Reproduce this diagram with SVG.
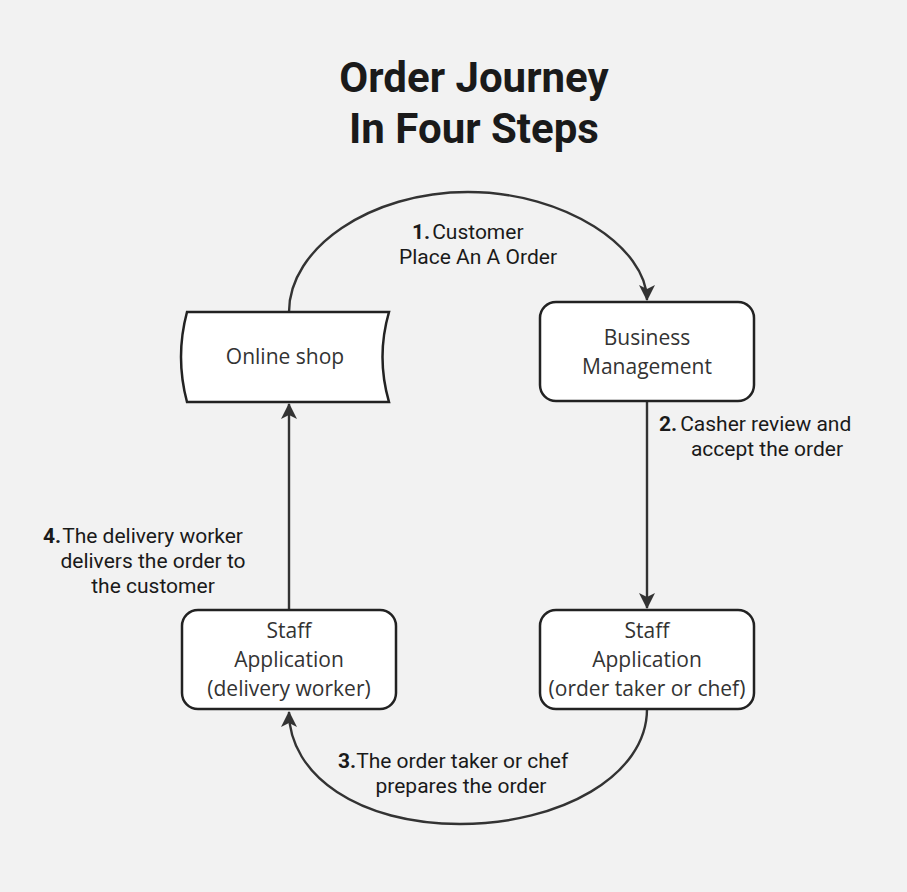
<svg xmlns="http://www.w3.org/2000/svg" width="907" height="892" viewBox="0 0 907 892">
<defs>
<style>
.bg{fill:#f2f2f2}
.node{fill:#ffffff;stroke:#222222;stroke-width:2.5}
.ntext{font-family:"Open Sans","Noto Sans",sans-serif;font-size:21px;fill:#333333;text-anchor:middle}
.conn{fill:none;stroke:#333333;stroke-width:2.4}
.lbl{font-family:Roboto,"Liberation Sans",sans-serif;font-size:21px;fill:#1a1a1a}
.num{font-weight:bold}
.title{font-family:Roboto,"Liberation Sans",sans-serif;font-size:42px;font-weight:bold;fill:#1a1a1a;text-anchor:middle}
</style>
<marker id="arrow" viewBox="0 0 16 16" refX="15" refY="8" markerWidth="16" markerHeight="16" markerUnits="userSpaceOnUse" orient="auto">
<path d="M0,0 L16,8 L0,16 L4,8 Z" fill="#333333"/>
</marker>
</defs>
<rect class="bg" x="0" y="0" width="907" height="892"/>
<g id="title">
<text class="title" x="474" y="92">Order Journey</text>
<text class="title" x="474" y="143">In Four Steps</text>
</g>
<g id="connectors">
<path class="conn" d="M289,312 C289,248 370,192 468,192 C566,192 647,248 647,300" marker-end="url(#arrow)"/>
<path class="conn" d="M647,401 L647,608" marker-end="url(#arrow)"/>
<path class="conn" d="M647,709 C647,776 560,824 460,824 C360,824 289,776 289,712" marker-end="url(#arrow)"/>
<path class="conn" d="M289,610 L289,404" marker-end="url(#arrow)"/>
</g>
<g id="labels">
<text class="lbl" x="412" y="239"><tspan class="num">1.</tspan><tspan dx="2">Customer</tspan></text>
<text class="lbl" x="478" y="264" text-anchor="middle">Place An A Order</text>
<text class="lbl" x="659" y="431"><tspan class="num">2.</tspan><tspan dx="3">Casher review and</tspan></text>
<text class="lbl" x="767" y="456" text-anchor="middle">accept the order</text>
<text class="lbl" x="43" y="543"><tspan class="num">4.</tspan><tspan dx="1">The delivery worker</tspan></text>
<text class="lbl" x="153" y="568" text-anchor="middle">delivers the order to</text>
<text class="lbl" x="153" y="593" text-anchor="middle">the customer</text>
<text class="lbl" x="338" y="768"><tspan class="num">3.</tspan>The order taker or chef</text>
<text class="lbl" x="461" y="793" text-anchor="middle">prepares the order</text>
</g>
<g id="online-shop">
<path class="node" d="M187,312 L389,312 Q376,357 389,402 L187,402 Q175,357 187,312 Z"/>
<text class="ntext" x="285" y="364">Online shop</text>
</g>
<g id="business-management">
<rect class="node" x="540" y="302" width="214" height="99" rx="16"/>
<text class="ntext" x="647" y="345">Business</text>
<text class="ntext" x="647" y="374">Management</text>
</g>
<g id="staff-delivery">
<rect class="node" x="182" y="610" width="214" height="99" rx="16"/>
<text class="ntext" x="289" y="638">Staff</text>
<text class="ntext" x="289" y="667">Application</text>
<text class="ntext" x="289" y="696">(delivery worker)</text>
</g>
<g id="staff-order-taker">
<rect class="node" x="540" y="610" width="214" height="99" rx="16"/>
<text class="ntext" x="647" y="638">Staff</text>
<text class="ntext" x="647" y="667">Application</text>
<text class="ntext" x="647" y="696">(order taker or chef)</text>
</g>
</svg>
